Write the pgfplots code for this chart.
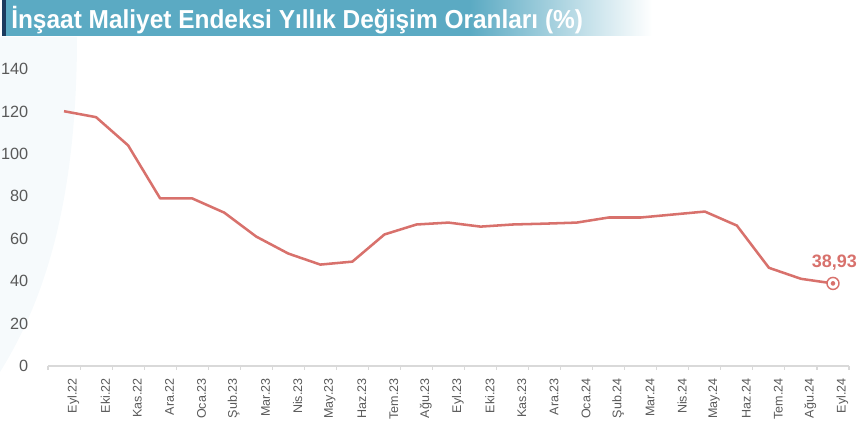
\documentclass[border=0pt]{standalone}
\usepackage{fontspec}
\setmainfont{Liberation Sans}
\usepackage{pgfplots}
\pgfplotsset{compat=1.18}
\definecolor{teal1}{HTML}{5BAAC3}
\definecolor{navy1}{HTML}{1C3B5E}
\definecolor{line1}{HTML}{D8716C}
\definecolor{txt}{HTML}{595959}
\definecolor{bgarc}{HTML}{F6FAFC}
\definecolor{axisgray}{HTML}{D9D9D9}
\begin{document}
\begin{tikzpicture}[x=0.75pt,y=0.75pt]
\path[use as bounding box] (0,0) rectangle (860,442);
% faint background arc (y measured from bottom: 442 - y_px)
\fill[bgarc] (0,405) -- (77,405) .. controls (77,242) and (45,142) .. (0,70) -- cycle;
% title bar
\fill[teal1] (6,442) rectangle (470,406);
\shade[left color=teal1, right color=white] (469.5,442) rectangle (652,406);
\fill[navy1] (2,442) rectangle (6,406);
\node[anchor=base west, text=white, inner sep=0pt,
      font=\bfseries\fontsize{19.5}{21}\selectfont] at (11,413)
  {\scalebox{0.94}[1]{İnşaat Maliyet Endeksi Yıllık Değişim Oranları (\%)}};
\begin{axis}[
  at={(36pt,57pt)}, anchor=south west,
  x=24.03pt, y=1.591pt,
  xmin=-0.5, xmax=24.5, ymin=0, ymax=140,
  clip=false,
  axis x line*=bottom, axis y line*=left,
  x axis line style={axisgray, line width=0.8pt},
  y axis line style={draw=none},
  xtick={0,...,24},
  xticklabels={Eyl.22,Eki.22,Kas.22,Ara.22,Oca.23,Şub.23,Mar.23,Nis.23,May.23,Haz.23,Tem.23,Ağu.23,Eyl.23,Eki.23,Kas.23,Ara.23,Oca.24,Şub.24,Mar.24,Nis.24,May.24,Haz.24,Tem.24,Ağu.24,Eyl.24},
  minor xtick={-0.5,0.5,...,24.5},
  major x tick style={draw=none},
  minor x tick style={axisgray, line width=0.8pt},
  minor tick length=3pt,
  tick align=outside,
  x tick label style={rotate=90, anchor=east, text=txt, xshift=-1.5pt, yshift=-7pt,
      font=\fontsize{9.4}{10}\selectfont},
  ytick={0,20,...,140},
  ytick style={draw=none},
  y tick label style={text=txt, xshift=-7pt, font=\fontsize{12.2}{14}\selectfont},
  /pgf/number format/assume math mode=true,
]
\addplot[line1, line width=1.9pt, line join=round] coordinates {
(0,120.1) (1,117.3) (2,104) (3,79) (4,79) (5,72.3) (6,61) (7,53)
(8,47.8) (9,49.2) (10,62) (11,66.7) (12,67.6) (13,65.7) (14,66.7)
(15,67.1) (16,67.6) (17,70) (18,70) (19,71.4) (20,72.8) (21,66.2)
(22,46.3) (23,41.1) (24,38.93)};
\addplot[only marks, mark=*, mark size=4.5pt, mark options={draw=line1, fill=white, line width=1.1pt}] coordinates {(24,38.93)};
\addplot[only marks, mark=*, mark size=1.5pt, mark options={draw=line1, fill=line1}] coordinates {(24,38.93)};
\node[anchor=base, text=line1, font=\bfseries\fontsize{13.5}{15}\selectfont, yshift=12pt, xshift=1pt] at (axis cs:24,38.93) {38,93};
\end{axis}
\end{tikzpicture}
\end{document}
